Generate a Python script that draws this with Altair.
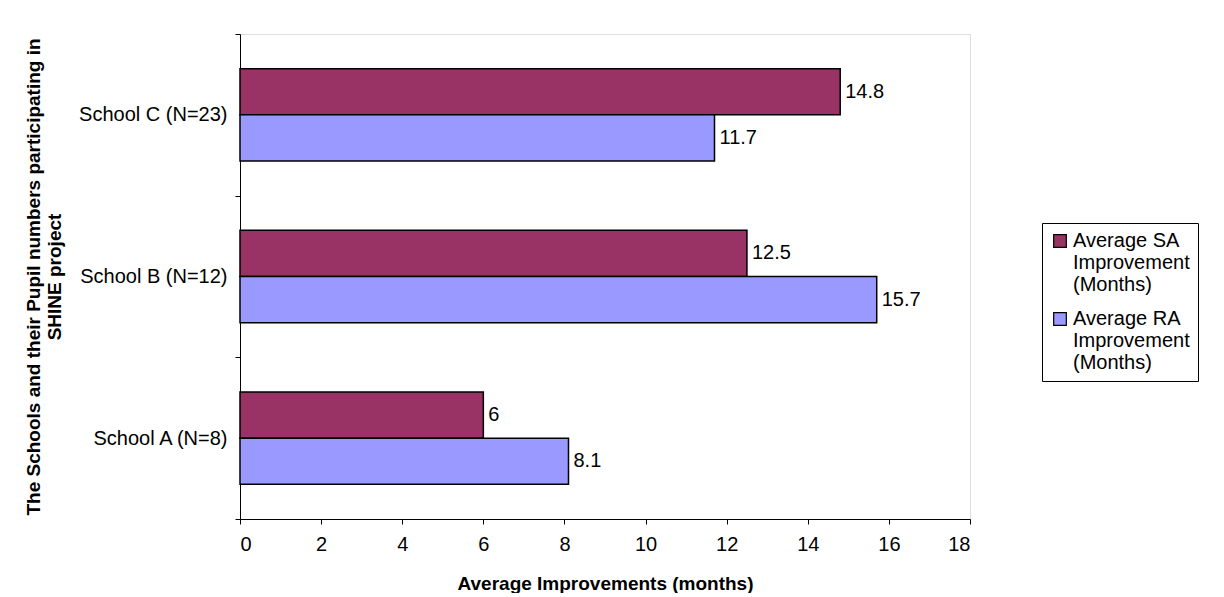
import altair as alt
import pandas as pd

schools = ["School C (N=23)", "School B (N=12)", "School A (N=8)"]
sa_values = [14.8, 12.5, 6]
ra_values = [11.7, 15.7, 8.1]
series = ["Average SA|Improvement|(Months)", "Average RA|Improvement|(Months)"]

rows = []
for s, a, r in zip(schools, sa_values, ra_values):
    rows.append({"school": s, "series": series[0], "value": a})
    rows.append({"school": s, "series": series[1], "value": r})
df = pd.DataFrame(rows)

y = alt.Y("school:N", sort=schools,
          scale=alt.Scale(paddingInner=0, paddingOuter=0),
          axis=alt.Axis(title=["The Schools and their Pupil numbers participating in", "SHINE project"],
                        tickBand="extent", labelFontSize=20, titleFontSize=19, tickSize=5,
                        titleFontWeight="bold", labelPadding=8, titlePadding=14,
                        domainColor="black", tickColor="black", labelColor="black"))
yoff = alt.YOffset("series:N", sort=series, scale=alt.Scale(paddingOuter=0.75, paddingInner=0))

bars = alt.Chart(df).mark_bar(stroke="black", strokeWidth=1.5).encode(
    x=alt.X("value:Q", scale=alt.Scale(domain=[0, 18], nice=False),
            axis=alt.Axis(values=list(range(0, 19, 2)), title="Average Improvements (months)",
                          grid=False, labelFontSize=20, titleFontSize=19, titleFontWeight="bold",
                          domainColor="black", tickColor="black", labelColor="black",
                          titlePadding=20, labelPadding=10)),
    y=y, yOffset=yoff,
    color=alt.Color("series:N", sort=series,
                    scale=alt.Scale(domain=series, range=["#993366", "#9999FF"]),
                    legend=alt.Legend(title=None, orient="none", legendX=802, legendY=189,
                                      symbolType="square", symbolSize=160, symbolStrokeColor="black",
                                      symbolStrokeWidth=1.2, labelFontSize=20,
                                      labelExpr="split(datum.label, '|')",
                                      strokeColor="black", padding=8, rowPadding=14,
                                      labelLimit=250, labelOffset=3)),
)

labels = alt.Chart(df).mark_text(align="left", dx=5, fontSize=20, color="black").encode(
    x="value:Q", y=y, yOffset=yoff, text=alt.Text("value:Q"))

chart = alt.layer(bars, labels).properties(
    width=730, height=485, padding={"left": 16, "top": 16, "right": 0, "bottom": 0}
).configure_view(stroke="#808080", strokeWidth=1.5).configure(font="Liberation Sans")

chart.save("out.html", embed_options={"renderer": "svg", "actions": False})
